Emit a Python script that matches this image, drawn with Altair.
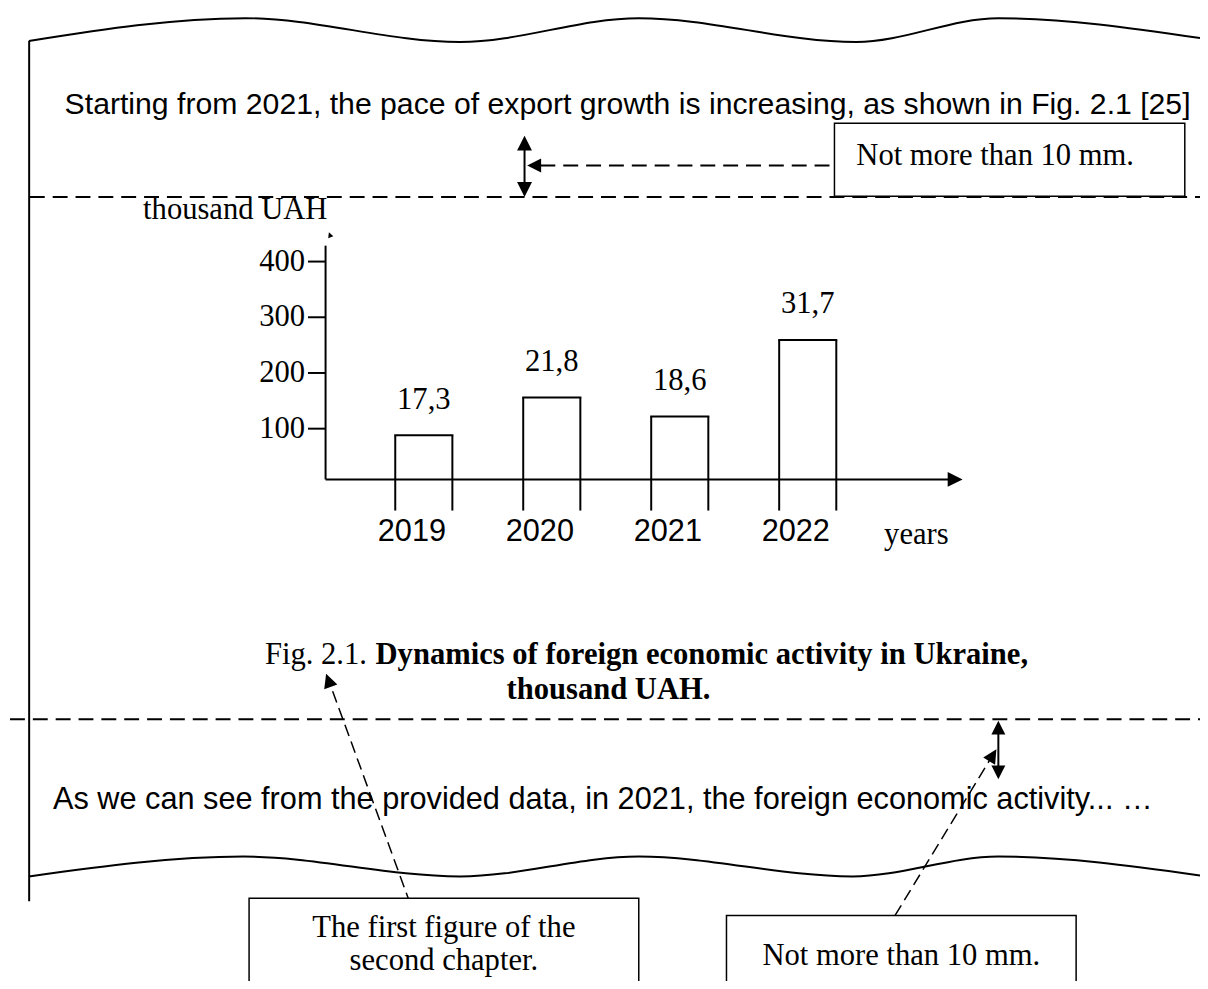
import altair as alt
import pandas as pd

# ---------------- chart values ----------------
years = ["2019", "2020", "2021", "2022"]
bar_heights = [88, 156, 122, 259]            # read against the 0-400 axis
bar_labels = ["17,3", "21,8", "18,6", "31,7"]
axis_ticks = [100, 200, 300, 400]
BAR_STUB = -47                               # bars run on below the baseline

# ---------------- texts ----------------
top_text = "Starting from 2021, the pace of export growth is increasing, as shown in Fig. 2.1 [25]"
bottom_text = "As we can see from the provided data, in 2021, the foreign economic activity... \u2026"
y_title = "thousand UAH"
x_title = "years"
note_text = "Not more than 10 mm."
cap_regular = "Fig. 2.1."
cap_bold_1 = "Dynamics of foreign economic activity in Ukraine,"
cap_bold_2 = "thousand UAH."
box_left_lines = ["The first figure of the", "second chapter."]

SERIF = "Liberation Serif"
SANS = "Liberation Sans"
SANS_SIZE = 30.9
TOP_SIZE = 30.4
SERIF_SIZE = 30.8

# ---------------- page canvas (reference pixel units) ----------------
W, H = 1200, 973
M = 8
cx = alt.Scale(domain=[M, M + W], nice=False, zero=False)
cy = alt.Scale(domain=[M, M + H], reverse=True, nice=False, zero=False)

wave_top_x = [29, 247, 463, 643, 862, 1005, 1208]
wave_top_y = [38, 15, 39, 15, 39, 15, 35]
wave_bot_x = [29, 245, 463, 643, 858, 1005, 1208]
wave_bot_y = [879, 859, 879, 859, 879, 859, 878]

waves = pd.DataFrame({
    "x": wave_top_x + wave_bot_x,
    "y": wave_top_y + wave_bot_y,
    "o": list(range(7)) + list(range(7)),
    "id": ["top"] * 7 + ["bottom"] * 7,
})

solid = pd.DataFrame({
    "x": [29.3, 327.7, 327.7, 528, 1005],
    "y": [38, 244, 479.3, 146, 735],
    "x2": [29.3, 327.7, 955, 528, 1005],
    "y2": [904, 479.3, 479.3, 183, 768],
})
dashed = pd.DataFrame({
    "x": [30, 10, 544],
    "y": [195, 720.7, 163.3],
    "x2": [1208, 1208, 840],
    "y2": [195, 720.7, 163.3],
})
diag = pd.DataFrame({
    "x": [413, 901],
    "y": [906.7, 918.3],
    "x2": [331, 998],
    "y2": [682, 759],
})
boxes = pd.DataFrame({
    "x": [840, 250.7, 731.3],
    "y": [120.7, 901, 918.3],
    "x2": [1192.7, 643, 1083.3],
    "y2": [194.3, 1010, 1010],
})
heads = pd.DataFrame({
    "x": [528, 528, 537.7, 961.5, 1005, 1005, 330.6, 999.4, 332],
    "y": [140.8, 187.5, 163.3, 479.3, 729.2, 774.2, 681.6, 757, 233],
    "angle": [0, 180, 270, 90, 0, 180, 340.4, 31.4, 340],
    "size": [225, 225, 196, 225, 196, 196, 196, 196, 30],
})


def segs(df, **mk):
    return alt.Chart(df).mark_rule(color="black", **mk).encode(
        x=alt.X("x:Q", scale=cx, axis=None), y=alt.Y("y:Q", scale=cy, axis=None),
        x2="x2:Q", y2="y2:Q")


layers = []
layers.append(alt.Chart(waves).mark_line(color="black", strokeWidth=2, interpolate="monotone").encode(
    x=alt.X("x:Q", scale=cx, axis=None), y=alt.Y("y:Q", scale=cy, axis=None),
    detail="id:N", order="o:Q"))
layers.append(segs(dashed, strokeWidth=2, strokeDash=[15, 8]))
layers.append(segs(diag, strokeWidth=1.5, strokeDash=[12, 6]))
layers.append(alt.Chart(boxes).mark_rect(fill="white", stroke="black", strokeWidth=1.5).encode(
    x=alt.X("x:Q", scale=cx, axis=None), y=alt.Y("y:Q", scale=cy, axis=None),
    x2="x2:Q", y2="y2:Q"))
layers.append(segs(solid, strokeWidth=2))
layers.append(alt.Chart(heads).mark_point(shape="M0,-1L1,1L-1,1Z", filled=True, color="black",
                                          opacity=1, strokeWidth=0).encode(
    x=alt.X("x:Q", scale=cx, axis=None), y=alt.Y("y:Q", scale=cy, axis=None),
    angle=alt.Angle("angle:Q", scale=None), size=alt.Size("size:Q", scale=None)))


def texts(rows, align, font, size, weight="normal"):
    df = pd.DataFrame(rows, columns=["t", "x", "y"])
    return alt.Chart(df).mark_text(align=align, baseline="alphabetic", font=font,
                                   fontSize=size, fontWeight=weight, color="black").encode(
        x=alt.X("x:Q", scale=cx, axis=None), y=alt.Y("y:Q", scale=cy, axis=None), text="t:N")


layers.append(texts([(top_text, 65, 111.7)], "left", SANS, TOP_SIZE))
layers.append(texts([(bottom_text, 53.3, 810.7)], "left", SANS, SANS_SIZE))
layers.append(texts([(y_title, 144, 217.3), (note_text, 862, 162.3),
                     (cap_regular, 266.7, 665), (x_title, 890, 544)], "left", SERIF, SERIF_SIZE))
layers.append(texts([(cap_bold_1, 378, 665)], "left", SERIF, SERIF_SIZE, "bold"))
layers.append(texts([(cap_bold_2, 612.5, 700.7)], "center", SERIF, SERIF_SIZE, "bold"))
layers.append(texts([(box_left_lines[0], 446.8, 940), (box_left_lines[1], 446.8, 973.3),
                     (note_text, 907.3, 968.3)], "center", SERIF, SERIF_SIZE))

# ---------------- bar chart (axis units) ----------------
bars = pd.DataFrame({"year": years, "v": bar_heights, "lab": bar_labels})
ticks = pd.DataFrame({"v": axis_ticks, "lab": [str(t) for t in axis_ticks]})

xs = alt.Scale(type="point", domain=years, range=[418.6, 805.1], padding=0)
ys = alt.Scale(domain=[0, 400], range=[476.3, 252], nice=False, zero=False)
BAR_W = 57.5

bx = alt.X("year:N", scale=xs, axis=None)
by = alt.Y("v:Q", scale=ys, axis=None)

layers.append(alt.Chart(bars).mark_tick(orient="horizontal", size=BAR_W + 2, thickness=2,
                                        color="black", opacity=1).encode(x=bx, y=by))
for off in (-BAR_W / 2, BAR_W / 2):
    layers.append(alt.Chart(bars).mark_rule(color="black", strokeWidth=2, xOffset=off).encode(
        x=bx, y=by, y2=alt.datum(BAR_STUB)))
layers.append(alt.Chart(bars).mark_text(baseline="alphabetic", dy=-27, font=SERIF, fontSize=SERIF_SIZE,
                                        color="black").encode(x=bx, y=by, text="lab:N"))
layers.append(alt.Chart(bars).mark_text(baseline="alphabetic", dx=-12, font=SANS, fontSize=SANS_SIZE,
                                        color="black").encode(x=bx, y=alt.value(541.5 - M), text="year:N"))
layers.append(alt.Chart(ticks).mark_rule(color="black", strokeWidth=2).encode(
    y=by, x=alt.value(310 - M), x2=alt.value(327.7 - M)))
layers.append(alt.Chart(ticks).mark_text(align="right", baseline="middle", font=SERIF, fontSize=SERIF_SIZE,
                                         color="black").encode(y=by, x=alt.value(307 - M), text="lab:N"))

chart = alt.layer(*layers).resolve_scale(x="independent", y="independent").properties(
    width=W, height=H, padding=0, autosize=alt.AutoSizeParams(type="none"),
    background="white").configure_view(stroke=None)

chart.save("out.html", embed_options={"renderer": "svg", "actions": False})
